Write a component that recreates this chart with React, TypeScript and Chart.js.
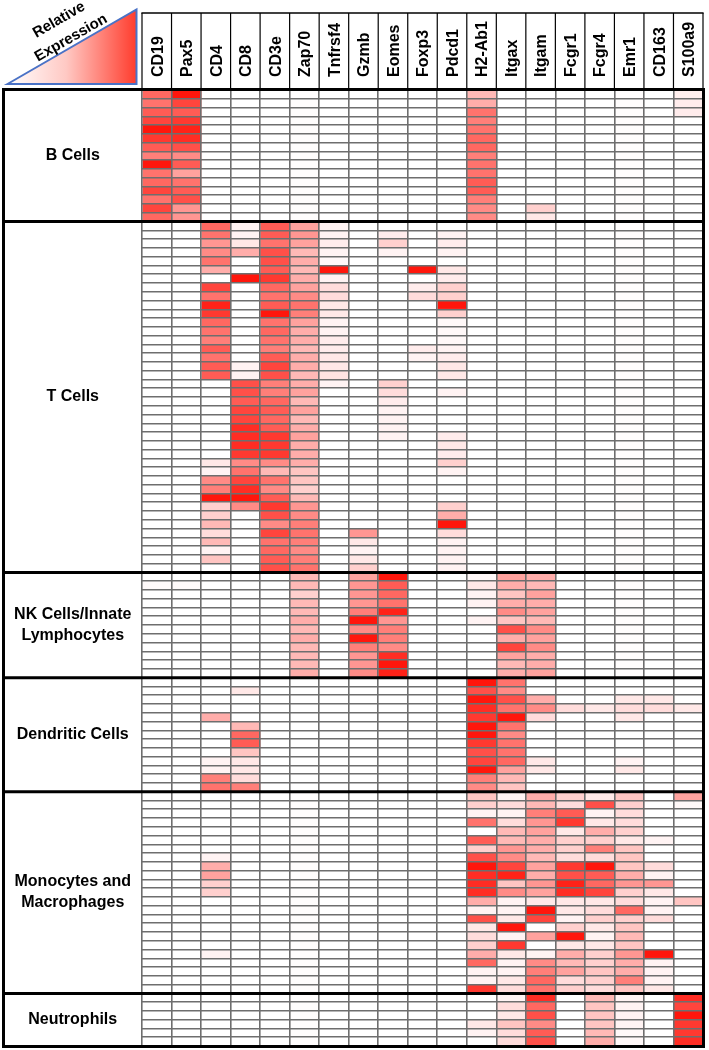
import React, { useEffect, useRef } from 'react';
import { Chart, registerables } from 'chart.js';
Chart.register(...registerables);

// Gene columns
const genes = ['CD19', 'Pax5', 'CD4', 'CD8', 'CD3e', 'Zap70', 'Tnfrsf4', 'Gzmb', 'Eomes', 'Foxp3', 'Pdcd1', 'H2-Ab1', 'Itgax', 'Itgam', 'Fcgr1', 'Fcgr4', 'Emr1', 'CD163', 'S100a9'];

// Cell-type group labels (line-broken as in the figure)
const groupLabels = [['B Cells'], ['T Cells'], ['NK Cells/Innate', 'Lymphocytes'], ['Dendritic Cells'], ['Monocytes and', 'Macrophages'], ['Neutrophils']];

// Relative expression (0-100), one row per sample, columns in gene order
const bCells = [
  [65, 100, 0, 0, 0, 1, 0, 0, 0, 0, 0, 30, 0, 0, 0, 0, 1, 0, 7],
  [60, 80, 0, 0, 0, 1, 0, 0, 0, 0, 0, 35, 0, 0, 0, 0, 1, 0, 8],
  [70, 70, 0, 0, 0, 1, 0, 0, 0, 0, 0, 60, 0, 0, 0, 0, 1, 0, 8],
  [80, 85, 0, 0, 0, 1, 0, 0, 0, 0, 0, 55, 0, 0, 0, 0, 1, 0, 0],
  [100, 95, 0, 0, 0, 1, 0, 0, 0, 0, 0, 60, 0, 0, 0, 0, 1, 0, 0],
  [85, 90, 0, 0, 0, 1, 0, 0, 0, 0, 0, 65, 0, 0, 0, 0, 1, 0, 0],
  [70, 75, 0, 0, 0, 1, 0, 0, 0, 0, 0, 65, 0, 0, 0, 0, 1, 0, 0],
  [55, 50, 0, 0, 0, 1, 0, 0, 0, 0, 0, 55, 0, 0, 0, 0, 1, 0, 0],
  [100, 70, 0, 0, 0, 1, 0, 0, 0, 0, 0, 60, 0, 0, 0, 0, 1, 0, 0],
  [60, 40, 0, 0, 0, 1, 0, 0, 0, 0, 0, 60, 0, 0, 0, 0, 1, 0, 0],
  [65, 60, 0, 0, 0, 1, 0, 0, 0, 0, 0, 70, 0, 0, 0, 0, 1, 0, 0],
  [80, 70, 0, 0, 0, 1, 0, 0, 0, 0, 0, 70, 0, 0, 0, 0, 1, 0, 0],
  [60, 75, 0, 0, 0, 1, 0, 0, 0, 0, 0, 55, 0, 0, 0, 0, 1, 0, 0],
  [80, 45, 0, 0, 0, 1, 0, 0, 0, 0, 0, 50, 0, 20, 0, 0, 1, 0, 0],
  [65, 45, 0, 0, 0, 1, 0, 0, 0, 0, 0, 50, 0, 10, 0, 0, 1, 0, 0],
];

const tCells = [
  [0, 0, 65, 5, 70, 40, 5, 0, 0, 0, 0, 0, 0, 0, 0, 0, 1, 0, 0],
  [0, 0, 60, 5, 70, 45, 5, 0, 8, 0, 5, 0, 0, 0, 0, 0, 1, 0, 0],
  [0, 0, 45, 10, 60, 40, 8, 0, 20, 0, 8, 0, 0, 0, 0, 0, 1, 0, 0],
  [0, 0, 50, 35, 75, 30, 5, 0, 5, 0, 5, 0, 0, 0, 0, 0, 1, 0, 0],
  [0, 0, 60, 0, 75, 35, 3, 0, 0, 0, 0, 0, 0, 0, 0, 0, 1, 0, 0],
  [0, 0, 35, 0, 70, 30, 100, 0, 0, 100, 10, 0, 0, 0, 0, 0, 1, 0, 0],
  [0, 0, 0, 100, 85, 35, 5, 0, 0, 0, 8, 0, 0, 0, 0, 0, 1, 0, 0],
  [0, 0, 80, 0, 65, 40, 15, 0, 0, 8, 20, 0, 0, 0, 0, 0, 1, 0, 0],
  [0, 0, 60, 0, 60, 50, 15, 0, 0, 15, 20, 0, 0, 0, 0, 0, 1, 0, 0],
  [0, 0, 95, 0, 70, 60, 10, 0, 0, 0, 100, 0, 0, 0, 0, 0, 1, 0, 0],
  [0, 0, 85, 0, 100, 55, 10, 0, 0, 0, 20, 0, 0, 0, 0, 0, 1, 0, 0],
  [0, 0, 65, 0, 60, 40, 5, 0, 0, 0, 3, 0, 0, 0, 0, 0, 1, 0, 0],
  [0, 0, 60, 0, 65, 35, 5, 0, 0, 0, 3, 0, 0, 0, 0, 0, 1, 0, 0],
  [0, 0, 55, 0, 60, 35, 8, 0, 0, 0, 3, 0, 0, 0, 0, 0, 1, 0, 0],
  [0, 0, 70, 0, 55, 30, 8, 0, 0, 8, 5, 0, 0, 0, 0, 0, 1, 0, 0],
  [0, 0, 60, 0, 70, 35, 10, 0, 0, 5, 8, 0, 0, 0, 0, 0, 1, 0, 0],
  [0, 0, 70, 5, 80, 35, 10, 0, 0, 0, 10, 0, 0, 0, 0, 0, 1, 0, 0],
  [0, 0, 70, 5, 75, 30, 12, 0, 0, 0, 10, 0, 0, 0, 0, 0, 1, 0, 0],
  [0, 0, 0, 75, 55, 35, 5, 0, 20, 0, 0, 0, 0, 0, 0, 0, 1, 0, 0],
  [0, 0, 0, 75, 55, 40, 0, 0, 15, 0, 5, 0, 0, 0, 0, 0, 1, 0, 0],
  [0, 0, 0, 70, 65, 30, 0, 0, 8, 0, 0, 0, 0, 0, 0, 0, 1, 0, 0],
  [0, 0, 0, 80, 70, 40, 0, 0, 5, 0, 0, 0, 0, 0, 0, 0, 1, 0, 0],
  [0, 0, 0, 80, 65, 30, 0, 0, 5, 0, 0, 0, 0, 0, 0, 0, 1, 0, 0],
  [0, 0, 0, 90, 70, 35, 0, 0, 5, 0, 0, 0, 0, 0, 0, 0, 1, 0, 0],
  [0, 0, 0, 90, 85, 40, 0, 0, 5, 0, 8, 0, 0, 0, 0, 0, 1, 0, 0],
  [0, 0, 0, 90, 85, 35, 0, 0, 0, 0, 10, 0, 0, 0, 0, 0, 1, 0, 0],
  [0, 0, 0, 85, 85, 35, 0, 0, 0, 0, 8, 0, 0, 0, 0, 0, 1, 0, 0],
  [0, 0, 10, 50, 50, 35, 0, 0, 0, 0, 20, 0, 0, 0, 0, 0, 1, 0, 0],
  [0, 0, 5, 60, 30, 25, 0, 0, 0, 0, 5, 0, 0, 0, 0, 0, 1, 0, 0],
  [0, 0, 50, 80, 60, 25, 0, 0, 0, 0, 0, 0, 0, 0, 0, 0, 1, 0, 0],
  [0, 0, 55, 90, 50, 20, 0, 0, 0, 0, 0, 0, 0, 0, 0, 0, 1, 0, 0],
  [0, 0, 100, 100, 70, 30, 0, 0, 0, 0, 0, 0, 0, 0, 0, 0, 1, 0, 0],
  [0, 0, 20, 50, 85, 45, 0, 0, 0, 0, 20, 0, 0, 0, 0, 0, 1, 0, 0],
  [0, 0, 20, 0, 75, 50, 0, 0, 0, 0, 35, 0, 0, 0, 0, 0, 1, 0, 0],
  [0, 0, 30, 0, 50, 55, 0, 0, 0, 0, 100, 0, 0, 0, 0, 0, 1, 0, 0],
  [0, 0, 15, 0, 80, 60, 0, 45, 0, 0, 15, 0, 0, 0, 0, 0, 1, 0, 0],
  [0, 0, 30, 0, 60, 55, 0, 10, 0, 0, 5, 0, 0, 0, 0, 0, 1, 0, 0],
  [0, 0, 5, 0, 65, 50, 0, 5, 0, 0, 5, 0, 0, 0, 0, 0, 1, 0, 0],
  [0, 0, 25, 0, 70, 55, 0, 10, 0, 0, 5, 0, 0, 0, 0, 0, 1, 0, 0],
  [0, 0, 0, 0, 75, 60, 0, 20, 0, 0, 5, 0, 0, 0, 0, 0, 1, 0, 0],
];

const nkCells = [
  [0, 0, 0, 0, 0, 30, 0, 40, 100, 0, 0, 3, 40, 35, 0, 0, 1, 0, 0],
  [2, 2, 0, 0, 0, 30, 0, 45, 70, 0, 0, 10, 35, 30, 0, 0, 1, 0, 0],
  [0, 0, 0, 0, 0, 20, 0, 45, 65, 0, 0, 5, 25, 40, 0, 0, 1, 0, 0],
  [0, 0, 0, 0, 0, 30, 0, 45, 60, 0, 0, 5, 35, 35, 0, 0, 1, 0, 0],
  [0, 0, 0, 0, 0, 30, 0, 55, 95, 0, 0, 0, 50, 40, 0, 0, 1, 0, 0],
  [0, 0, 0, 0, 0, 35, 0, 100, 45, 0, 0, 5, 25, 30, 0, 0, 1, 0, 0],
  [0, 0, 0, 0, 0, 30, 0, 50, 55, 0, 0, 0, 75, 50, 0, 0, 1, 0, 0],
  [0, 0, 0, 0, 0, 35, 0, 100, 55, 0, 0, 0, 35, 40, 0, 0, 1, 0, 0],
  [0, 0, 0, 0, 0, 30, 0, 55, 50, 0, 0, 0, 80, 50, 0, 0, 1, 0, 0],
  [0, 0, 0, 0, 0, 30, 0, 45, 90, 0, 0, 0, 40, 35, 0, 0, 1, 0, 0],
  [0, 0, 0, 0, 0, 30, 0, 45, 100, 0, 0, 0, 30, 35, 0, 0, 1, 0, 0],
  [0, 0, 0, 0, 0, 35, 0, 50, 95, 0, 0, 0, 35, 40, 0, 0, 1, 0, 0],
];

const dendriticCells = [
  [0, 0, 0, 0, 0, 0, 0, 0, 0, 0, 0, 100, 60, 0, 0, 0, 0, 0, 0],
  [0, 0, 0, 10, 0, 0, 0, 0, 0, 0, 0, 75, 50, 0, 0, 0, 0, 0, 0],
  [0, 0, 0, 0, 0, 0, 0, 0, 0, 0, 0, 100, 75, 35, 0, 0, 10, 10, 0],
  [0, 0, 0, 0, 0, 0, 0, 0, 0, 0, 0, 90, 60, 50, 15, 10, 15, 15, 10],
  [0, 0, 35, 0, 0, 0, 0, 0, 0, 0, 0, 85, 100, 15, 0, 0, 10, 0, 0],
  [0, 0, 0, 30, 0, 0, 0, 0, 0, 0, 0, 100, 60, 0, 0, 0, 0, 0, 0],
  [0, 0, 0, 65, 0, 0, 0, 0, 0, 0, 0, 100, 50, 0, 0, 0, 0, 0, 0],
  [0, 0, 0, 70, 0, 0, 0, 0, 0, 0, 0, 85, 60, 0, 0, 0, 0, 0, 0],
  [0, 0, 0, 25, 0, 0, 0, 0, 0, 0, 0, 75, 60, 0, 0, 0, 0, 0, 0],
  [0, 0, 5, 10, 0, 0, 0, 0, 0, 0, 0, 80, 65, 10, 0, 0, 5, 0, 0],
  [0, 0, 5, 10, 0, 0, 0, 0, 0, 0, 0, 100, 40, 10, 0, 0, 10, 0, 0],
  [0, 0, 55, 15, 0, 0, 0, 0, 0, 0, 0, 55, 30, 0, 0, 0, 0, 0, 0],
  [0, 0, 60, 55, 0, 0, 0, 0, 0, 0, 0, 50, 25, 0, 0, 0, 0, 0, 0],
];

const monoMacCells = [
  [0, 0, 0, 0, 0, 1, 0, 0, 0, 0, 0, 25, 5, 35, 20, 10, 25, 0, 40],
  [0, 0, 0, 0, 0, 1, 0, 0, 0, 0, 0, 20, 15, 30, 15, 75, 20, 0, 3],
  [0, 0, 0, 0, 0, 1, 0, 0, 0, 0, 0, 5, 5, 55, 70, 5, 15, 0, 0],
  [0, 0, 0, 0, 0, 1, 0, 0, 0, 0, 0, 60, 15, 45, 85, 10, 15, 0, 0],
  [0, 0, 0, 0, 0, 1, 0, 0, 0, 0, 0, 0, 30, 40, 10, 35, 20, 0, 0],
  [0, 0, 0, 0, 0, 1, 0, 0, 0, 0, 0, 70, 30, 35, 20, 20, 10, 5, 0],
  [0, 0, 0, 0, 0, 1, 0, 0, 0, 0, 0, 20, 45, 35, 20, 55, 25, 0, 0],
  [0, 0, 5, 0, 0, 1, 0, 0, 0, 0, 0, 75, 50, 30, 15, 15, 25, 0, 0],
  [0, 0, 35, 0, 0, 1, 0, 0, 0, 0, 0, 100, 80, 40, 85, 100, 25, 15, 0],
  [0, 0, 40, 0, 0, 1, 0, 0, 0, 0, 0, 90, 95, 35, 75, 70, 35, 5, 0],
  [0, 0, 20, 0, 0, 1, 0, 0, 0, 0, 0, 90, 25, 45, 95, 65, 45, 45, 0],
  [0, 0, 20, 0, 0, 1, 0, 0, 0, 0, 0, 90, 50, 40, 90, 80, 20, 10, 0],
  [0, 0, 0, 0, 0, 1, 0, 0, 0, 0, 0, 35, 5, 10, 10, 10, 15, 5, 25],
  [0, 0, 0, 0, 0, 1, 0, 0, 0, 0, 0, 5, 5, 100, 10, 15, 65, 5, 0],
  [0, 0, 0, 0, 0, 1, 0, 0, 0, 0, 0, 75, 10, 80, 5, 20, 20, 15, 0],
  [0, 0, 0, 0, 0, 1, 0, 0, 0, 0, 0, 10, 100, 0, 20, 10, 25, 0, 0],
  [0, 0, 0, 0, 0, 1, 0, 0, 0, 0, 0, 15, 5, 40, 100, 5, 30, 0, 0],
  [0, 0, 0, 0, 0, 1, 0, 0, 0, 0, 0, 20, 85, 0, 10, 10, 25, 0, 0],
  [0, 0, 5, 0, 0, 1, 0, 0, 0, 0, 0, 35, 10, 5, 35, 20, 45, 100, 0],
  [0, 0, 0, 0, 0, 1, 0, 0, 0, 0, 0, 65, 5, 50, 30, 20, 35, 5, 0],
  [0, 0, 0, 0, 0, 1, 0, 0, 0, 0, 0, 5, 5, 55, 40, 25, 35, 5, 0],
  [0, 0, 0, 0, 0, 1, 0, 0, 0, 0, 0, 5, 10, 65, 15, 20, 55, 5, 0],
  [0, 0, 0, 0, 0, 1, 0, 0, 0, 0, 0, 85, 15, 60, 20, 15, 25, 10, 0],
];

const neutrophils = [
  [0, 0, 0, 0, 0, 1, 0, 0, 0, 0, 0, 0, 5, 90, 0, 30, 5, 0, 90],
  [0, 0, 0, 0, 0, 1, 0, 0, 0, 0, 0, 0, 15, 65, 0, 25, 5, 0, 80],
  [0, 0, 0, 0, 0, 1, 0, 0, 0, 0, 0, 0, 10, 75, 0, 25, 5, 0, 100],
  [0, 0, 0, 0, 0, 1, 0, 0, 0, 0, 0, 10, 25, 50, 0, 25, 5, 0, 85],
  [0, 0, 0, 0, 0, 1, 0, 0, 0, 0, 0, 5, 15, 70, 0, 30, 3, 0, 85],
  [0, 0, 0, 0, 0, 1, 0, 0, 0, 0, 0, 0, 15, 75, 0, 35, 3, 0, 90],
];

const groups = [bCells, tCells, nkCells, dendriticCells, monoMacCells, neutrophils];
const allRows = groups.flat();
const rowLabels = allRows.map((_, i) => 'r' + (i + 1));

const FONT = '"Liberation Sans", Arial, Helvetica, sans-serif';

function heatColor(v: number) {
  const t = Math.max(0, Math.min(1, v / 100));
  const g = Math.round(255 - t * (255 - 22));
  const b = Math.round(255 - t * (255 - 12));
  return `rgb(255,${g},${b})`;
}

const decorPlugin = {
  id: 'decor',
  afterDraw(chart: any) {
    const ctx = chart.ctx as CanvasRenderingContext2D;
    const xs = chart.scales.x;
    const { top, bottom, left, right } = chart.chartArea;
    const rowH = (bottom - top) / rowLabels.length;
    const line = (x1: number, y1: number, x2: number, y2: number) => {
      ctx.beginPath(); ctx.moveTo(x1, y1); ctx.lineTo(x2, y2); ctx.stroke();
    };
    ctx.save();

    // Header boxes
    const headerTop = 13;
    ctx.strokeStyle = '#000';
    ctx.lineWidth = 1.2;
    for (let i = 0; i <= genes.length; i++) {
      const x = xs.getPixelForValue(i);
      line(x, headerTop, x, top);
    }
    ctx.lineWidth = 1.5;
    line(left - 0.6, headerTop, right + 0.6, headerTop);

    // Header labels (rotated)
    ctx.fillStyle = '#000';
    ctx.font = `bold 16px ${FONT}`;
    ctx.textAlign = 'left';
    ctx.textBaseline = 'alphabetic';
    genes.forEach((g, i) => {
      const cx = xs.getPixelForValue(i + 0.5);
      ctx.save();
      ctx.translate(cx, top - 13);
      ctx.rotate(-Math.PI / 2);
      ctx.fillText(g, 0, 5.8);
      ctx.restore();
    });

    // Relative expression triangle
    const grad = ctx.createLinearGradient(8, 0, 137, 0);
    grad.addColorStop(0, '#ffffff');
    grad.addColorStop(0.45, '#ffc9c4');
    grad.addColorStop(1, '#ff3b2c');
    ctx.beginPath();
    ctx.moveTo(7.5, 84);
    ctx.lineTo(136.5, 9.5);
    ctx.lineTo(136.5, 84);
    ctx.closePath();
    ctx.fillStyle = grad;
    ctx.fill();
    ctx.strokeStyle = '#4a72c6';
    ctx.lineWidth = 2;
    ctx.stroke();

    ctx.fillStyle = '#000';
    ctx.font = `bold 15px ${FONT}`;
    ctx.textAlign = 'center';
    ctx.textBaseline = 'middle';
    const ang = -Math.atan2(74.5, 129);
    [['Relative', 59, 20], ['Expression', 71, 38]].forEach(([t, x, y]) => {
      ctx.save();
      ctx.translate(x as number, y as number);
      ctx.rotate(ang);
      ctx.fillText(t as string, 0, 0);
      ctx.restore();
    });

    // Left panel, outer border and group separators
    const outerLeft = 3.5;
    ctx.strokeStyle = '#000';
    ctx.lineWidth = 3;
    ctx.strokeRect(outerLeft, top - 0.5, right + 0.5 - outerLeft, bottom - top + 1);
    let acc = 0;
    ctx.font = `bold 16px ${FONT}`;
    ctx.textAlign = 'center';
    ctx.textBaseline = 'middle';
    groups.forEach((grp, gi) => {
      const y0 = top + acc * rowH;
      acc += grp.length;
      const y1 = top + acc * rowH;
      if (gi < groups.length - 1) {
        ctx.lineWidth = 3;
        line(outerLeft, y1, right + 0.5, y1);
      }
      const lines = groupLabels[gi];
      const cy = (y0 + y1) / 2;
      const lh = 21;
      lines.forEach((t, li) => {
        ctx.fillText(t, (outerLeft + left) / 2, cy + (li - (lines.length - 1) / 2) * lh);
      });
    });
    ctx.restore();
  },
};

export default function App() {
  const ref = useRef<HTMLCanvasElement>(null);
  useEffect(() => {
    const datasets = genes.map((g, gi) => ({
      label: g,
      data: allRows.map(() => [gi, gi + 1]),
      backgroundColor: allRows.map((r) => heatColor(r[gi])),
      borderWidth: 0,
      grouped: false,
      barPercentage: 1,
      categoryPercentage: 1,
    }));
    const chart = new Chart(ref.current as HTMLCanvasElement, {
      type: 'bar',
      data: { labels: rowLabels, datasets: datasets as any },
      options: {
        indexAxis: 'y',
        responsive: false,
        animation: false,
        devicePixelRatio: 1,
        layout: { padding: { left: 142, right: 6, top: 90, bottom: 4 } },
        plugins: { legend: { display: false }, tooltip: { enabled: false } },
        scales: {
          x: {
            type: 'linear',
            min: 0,
            max: genes.length,
            ticks: { display: false, stepSize: 1, maxTicksLimit: 100 },
            grid: { color: '#6e6e6e', lineWidth: 1.6, z: 1, drawTicks: false },
            border: { display: false },
          },
          y: {
            type: 'category',
            offset: true,
            ticks: { display: false, autoSkip: false },
            grid: { offset: true, color: '#6e6e6e', lineWidth: 1.5, z: 1, drawTicks: false },
            border: { display: false },
          },
        },
      } as any,
      plugins: [decorPlugin],
    });
    return () => chart.destroy();
  }, []);
  return (
    <div style={{ position: 'absolute', left: 0, top: 0, width: 709, height: 1050, background: '#fff' }}>
      <canvas ref={ref} width={709} height={1050} style={{ display: 'block', width: 709, height: 1050 }} />
    </div>
  );
}
